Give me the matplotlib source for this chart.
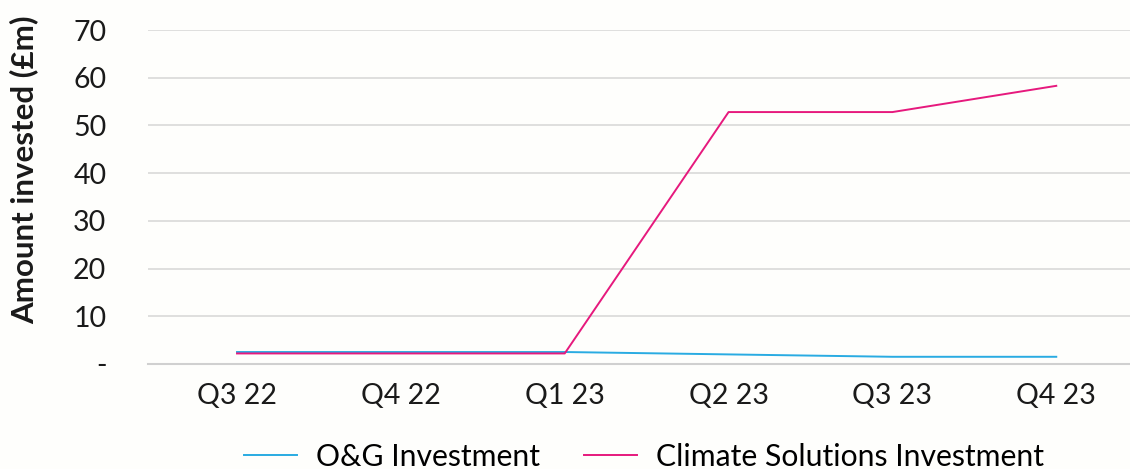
import matplotlib.pyplot as plt
import numpy as np

# data
quarters = ['Q3 22', 'Q4 22', 'Q1 23', 'Q2 23', 'Q3 23', 'Q4 23']
og_investment = [2.5, 2.5, 2.5, 2.0, 1.5, 1.5]
climate_investment = [2.2, 2.2, 2.2, 52.8, 52.8, 58.3]
y_ticks = [0, 10, 20, 30, 40, 50, 60, 70]
y_labels = ['-', '10', '20', '30', '40', '50', '60', '70']

plt.rcParams['font.family'] = ['Lato', 'DejaVu Sans']

fig = plt.figure(figsize=(11.3, 4.69), dpi=100)
fig.patch.set_facecolor('#fefefc')
ax = fig.add_axes([0.131, 0.224, 0.869, 0.712])
ax.set_facecolor('#fefefc')

x = np.arange(len(quarters))
ax.plot(x, og_investment, color='#29abe2', linewidth=1.4, label='O&G Investment')
ax.plot(x, climate_investment, color='#e6197d', linewidth=1.4, label='Climate Solutions Investment')

ax.set_xlim(-0.543, 5.45)
ax.set_ylim(0, 70)
ax.set_xticks(x)
ax.set_xticklabels(quarters)
ax.set_yticks(y_ticks)
ax.set_yticklabels(y_labels)

# gridlines, no frame
ax.grid(axis='y', color='#d9d9d9', linewidth=1.2)
ax.set_axisbelow(True)
for s in ['top', 'right', 'left']:
    ax.spines[s].set_visible(False)
ax.spines['bottom'].set_color('#d0d0d0')
ax.spines['bottom'].set_linewidth(1.5)
ax.tick_params(axis='both', length=0, labelsize=20.5, colors='#1a1a1a')
ax.tick_params(axis='y', pad=30)
ax.tick_params(axis='x', pad=14)

fig.text(0.021, 0.637, 'Amount invested (£m)', rotation=90, ha='center', va='center',
         fontsize=22.5, fontweight='bold', color='#1a1a1a')

fig.legend(loc='center', bbox_to_anchor=(0.570, 0.026), ncol=2, frameon=False,
           prop={'size': 21.7}, handlelength=1.75,
           columnspacing=1.45, handletextpad=0.65, borderaxespad=0, borderpad=0)

plt.savefig('out.png', dpi=100, facecolor=fig.get_facecolor())
